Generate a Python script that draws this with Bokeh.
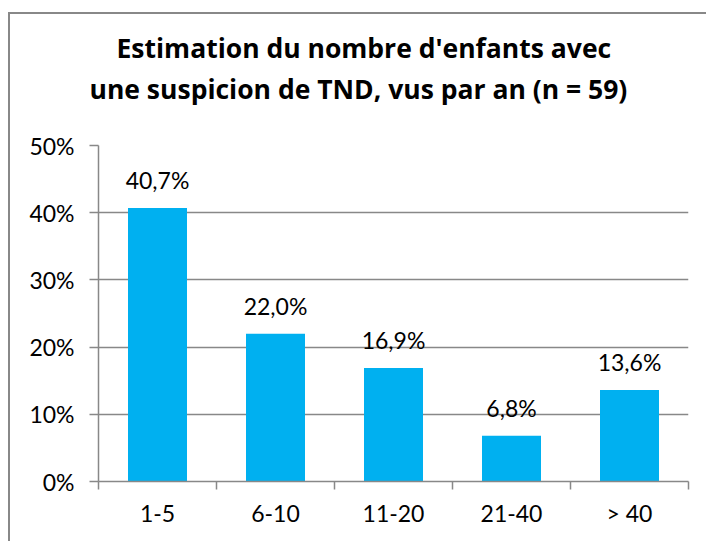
from bokeh.plotting import figure
from bokeh.models import Range1d, FixedTicker, NumeralTickFormatter, Title, ColumnDataSource
from bokeh.core.properties import value
from bokeh.embed import file_html
from bokeh.resources import INLINE

categories = ["1-5", "6-10", "11-20", "21-40", "> 40"]
shares = [0.407, 0.220, 0.169, 0.068, 0.136]
y_ticks = [0.0, 0.1, 0.2, 0.3, 0.4, 0.5]
title_lines = ["Estimation du nombre d'enfants avec",
               "une suspicion de TND, vus par an (n = 59)"]

GRAY = "#888888"
BAR = "#00B0F0"
FONT = "Lato"
TFONT = "Open Sans"

centers = [i + 0.5 for i in range(len(categories))]
edges = [float(i) for i in range(len(categories) + 1)]
labels = [f"{v * 100:.1f}%".replace(".", ",") for v in shares]

src = ColumnDataSource(dict(x=centers, top=shares, label=labels))

p = figure(width=698, height=529, output_backend="svg", toolbar_location=None,
           x_range=Range1d(0, len(categories)), y_range=Range1d(0, 0.5),
           min_border_left=88, min_border_right=20, min_border_top=131,
           min_border_bottom=62,
           styles={"margin-left": "8px", "margin-top": "12px",
                   "border-left": f"2px solid {GRAY}",
                   "border-top": f"2px solid {GRAY}"})
p.outline_line_color = None
p.background_fill_color = "white"
p.border_fill_color = "white"

p.vbar(x="x", top="top", width=0.5, source=src, fill_color=BAR, line_color=None)
p.text(x="x", y="top", text="label", source=src, y_offset=-28,
       text_align="center", text_baseline="alphabetic",
       text_font=value(FONT), text_font_size="23px", text_color="black")

# x axis
xa = p.xaxis[0]
xa.ticker = FixedTicker(ticks=centers, minor_ticks=edges)
xa.major_label_overrides = {c: cat for c, cat in zip(centers, categories)}
xa.major_tick_out = 0
xa.major_tick_in = 0
xa.minor_tick_out = 8
xa.minor_tick_in = 0
xa.minor_tick_line_color = GRAY
xa.minor_tick_line_width = 1.5
xa.axis_line_color = GRAY
xa.axis_line_width = 1.5
xa.major_label_standoff = 9
xa.major_label_text_font = FONT
xa.major_label_text_font_size = "23px"
xa.major_label_text_color = "black"
p.xgrid.visible = False

# y axis
ya = p.yaxis[0]
yt = FixedTicker(ticks=y_ticks, minor_ticks=[])
ya.ticker = yt
ya.formatter = NumeralTickFormatter(format="0%")
ya.major_tick_out = 9
ya.major_tick_in = 0
ya.minor_tick_out = 0
ya.minor_tick_in = 0
ya.major_tick_line_color = GRAY
ya.major_tick_line_width = 1.5
ya.axis_line_color = GRAY
ya.axis_line_width = 1.5
ya.major_label_standoff = 15
ya.major_label_text_font = FONT
ya.major_label_text_font_size = "23px"
ya.major_label_text_color = "black"
p.ygrid.ticker = yt
p.ygrid.grid_line_color = GRAY
p.ygrid.grid_line_width = 1.5

# title: inner line first, outer line last
for line, so, off in zip(reversed(title_lines), [77, -71], [-9, 18]):
    p.add_layout(Title(text=line, align="left", offset=off, standoff=so,
                       text_font=TFONT, text_font_style="bold",
                       text_font_size="26.5px", text_color="black"), "above")

open("out.html", "w").write(file_html(p, INLINE))
